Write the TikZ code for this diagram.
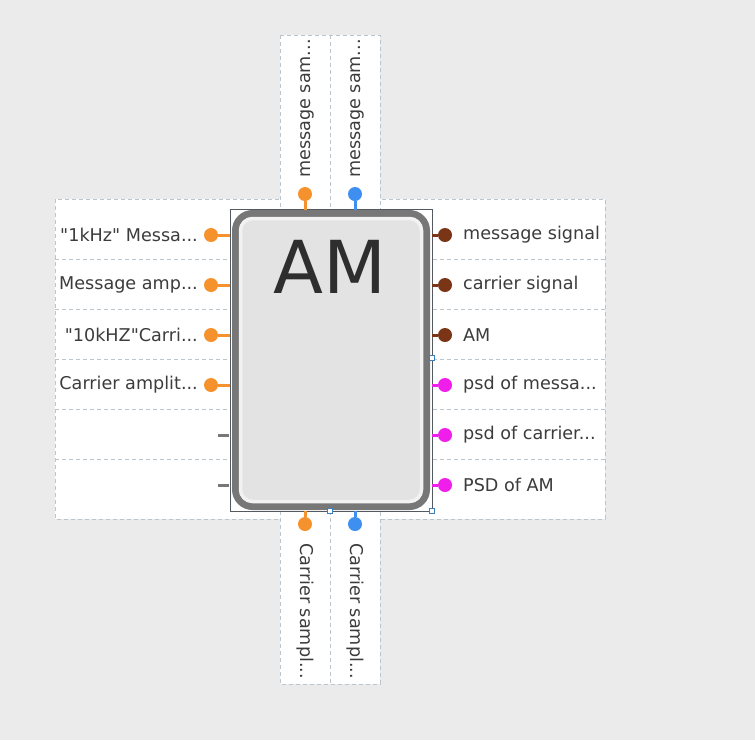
\documentclass[tikz,border=0pt]{standalone}
\usepackage{fontspec}
\setmainfont{DejaVu Sans}
\newfontfamily\lblfont{DejaVu Sans}
\definecolor{bg}{HTML}{EBEBEB}
\definecolor{dashc}{HTML}{BCC4CC}
\definecolor{txt}{HTML}{3C3C3C}
\definecolor{orng}{HTML}{F5922E}
\definecolor{blu}{HTML}{3F8FF0}
\definecolor{brn}{HTML}{7A3416}
\definecolor{mag}{HTML}{F01EEB}
\definecolor{frame}{HTML}{555A60}
\definecolor{rim}{HTML}{777777}
\definecolor{inner}{HTML}{E3E3E3}
\definecolor{hl}{HTML}{F2F2F2}
\definecolor{handle}{HTML}{3A7FC0}
\begin{document}
\begin{tikzpicture}[x=1pt,y=-1pt,
  panel/.style={draw=dashc,fill=white,dash pattern=on 4pt off 3pt,line width=0.8pt},
  sep/.style={draw=dashc,dash pattern=on 4pt off 3pt,line width=0.8pt},
  port/.style={circle,fill=#1,inner sep=0pt,minimum size=14pt},
  stem/.style={draw=#1,line width=3pt},
  lbl/.style={text=txt,font=\lblfont\fontsize{17.6}{21}\selectfont,inner sep=0pt},
  hnd/.style={draw=handle,fill=white,line width=0.8pt,inner sep=0pt,minimum size=5pt}]
\useasboundingbox[fill=bg] (0,0) rectangle (755,740);
% panels
\path[panel] (55,199) rectangle (330,519);
\path[panel] (330,199) rectangle (605,519);
\path[panel] (280,35) rectangle (380,210);
\path[sep] (330,35) -- (330,210);
\path[panel] (280,511) rectangle (380,684);
\path[sep] (330,511) -- (330,684);
\foreach \y in {259,309,359,409,459}{
  \path[sep] (55,\y) -- (230,\y);
  \path[sep] (433,\y) -- (605,\y);
}
% box
\draw[frame,line width=0.8pt] (230,209) rectangle (432,511);
\node[draw=rim,line width=7pt,fill=inner,rounded corners=17pt,minimum width=191pt,minimum height=293pt,inner sep=0pt] (box) at (331,360) {};
\draw[hl,line width=3.5pt,rounded corners=12pt] (240.5,218.5) rectangle (421.5,501.5);
\node[text=black!82,font=\fontsize{73}{80}\selectfont,inner sep=0pt] (title) at (330,267) {AM};
% handles
\node[hnd] (h1) at (432,358) {};
\node[hnd] (h2) at (432,511) {};
\node[hnd] (h3) at (330,511) {};
% left ports
\foreach \i/\y/\t in {1/235/{"1kHz" Messa...},2/285/{Message amp...},3/335/{"10kHZ"Carri...},4/385/{Carrier amplit...}}{
  \node[port=orng] (l\i) at (211,\y) {};
  \draw[stem=orng] (l\i) -- (l\i -| 230,0);
  \node[lbl,anchor=east] (lt\i) at (198,\y) {\t};
}
\coordinate (l5) at (218,435);
\coordinate (l6) at (218,485);
\draw[stem=rim] (l5) -- ++(11,0);
\draw[stem=rim] (l6) -- ++(11,0);
% right ports
\foreach \i/\y/\c/\t in {1/235/brn/{message signal},2/285/brn/{carrier signal},3/335/brn/{AM},4/385/mag/{psd of messa...},5/435/mag/{psd of carrier...},6/485/mag/{PSD of AM}}{
  \node[port=\c] (r\i) at (445,\y) {};
  \draw[stem=\c] (r\i) -- (r\i -| 432,0);
  \node[lbl,anchor=west] (rt\i) at (463,\y) {\t};
}
% top ports
\node[port=orng] (t1) at (305,194) {};
\node[port=blu] (t2) at (355,194) {};
\draw[stem=orng] (t1) -- (305,210);
\draw[stem=blu] (t2) -- (355,210);
\node[lbl,anchor=west,rotate=90] (tt1) at (307,178) {message sam...};
\node[lbl,anchor=west,rotate=90] (tt2) at (357,178) {message sam...};
% bottom ports
\node[port=orng] (b1) at (305,524) {};
\node[port=blu] (b2) at (355,524) {};
\draw[stem=orng] (b1) -- (305,511);
\draw[stem=blu] (b2) -- (355,511);
\node[lbl,anchor=west,rotate=-90] (bt1) at (305,543) {Carrier sampl...};
\node[lbl,anchor=west,rotate=-90] (bt2) at (355,543) {Carrier sampl...};
\end{tikzpicture}
\end{document}
